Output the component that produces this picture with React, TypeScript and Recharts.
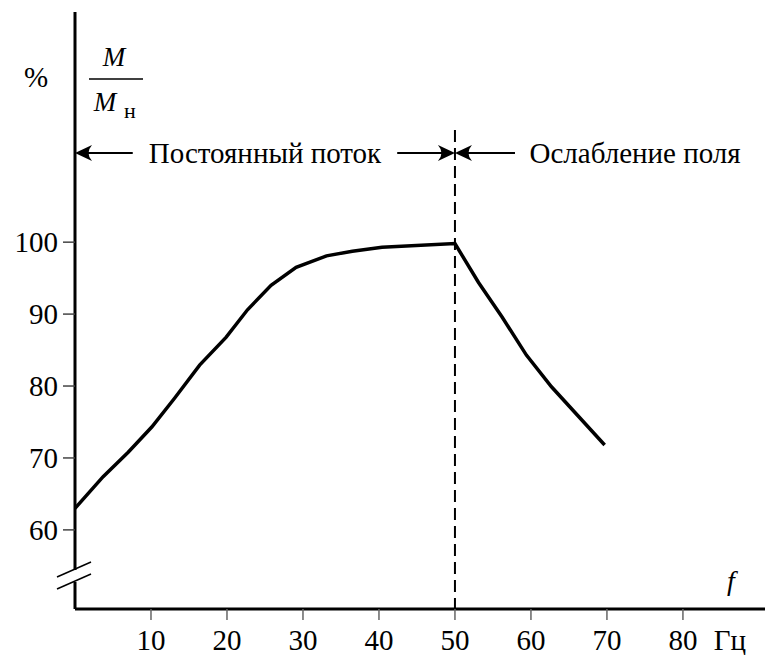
import React from 'react';
import { ComposedChart, Line, XAxis, YAxis, ReferenceLine, ReferenceDot } from 'recharts';

const frequency = [0, 3.7, 7.0, 10.1, 13.1, 16.4, 19.9, 22.7, 25.8, 29.1, 33.1, 36.5, 40.4, 50, 53.1, 56.2, 59.4, 62.7, 69.7];
const torquePct = [63.0, 67.4, 70.8, 74.3, 78.3, 82.9, 86.8, 90.6, 94.0, 96.5, 98.1, 98.75, 99.3, 99.8, 94.4, 89.6, 84.3, 79.9, 71.8];
const xTicks = [10, 20, 30, 40, 50, 60, 70, 80];
const yTicks = [60, 70, 80, 90, 100];
const baseFrequency = 50;
const labelConstFlux = 'Постоянный поток';
const labelWeakening = 'Ослабление поля';

const data = frequency.map((f, i) => ({ f, m: torquePct[i] }));

const FONT = '"Liberation Serif", Tinos, "Times New Roman", Times, "DejaVu Serif", "Noto Serif", serif';
const ARROW_Y = 112.4;

const ArrowShape = (props: any) => {
  const { x1, y1, x2, y2 } = props;
  const d = x2 > x1 ? 1 : -1;
  const L = 17;
  const H = 8;
  const head = `M ${x2} ${y2} L ${x2 - d * L} ${y2 - H} Q ${x2 - d * 10} ${y2} ${x2 - d * L} ${y2 + H} Z`;
  return (
    <g>
      <line x1={x1} y1={y1} x2={x2 - d * 8} y2={y2} stroke="#000" strokeWidth={2} />
      <path d={head} fill="#000" stroke="none" />
    </g>
  );
};

const TextShape = (text: string) => (props: any) => (
  <text x={props.cx} y={props.cy + 10} textAnchor="middle" style={{ fontFamily: FONT, fontSize: 29 }} fill="#000">
    {text}
  </text>
);

const tickStyle = { fill: '#000', fontSize: 29, style: { fontFamily: FONT } };

export default function App() {
  return (
    <div style={{ position: 'absolute', left: 0, top: 0, width: 765, height: 655, background: '#fff', fontFamily: FONT }}>
      <ComposedChart
        width={765}
        height={655}
        data={data}
        margin={{ top: 12, right: 0, bottom: 0, left: 0 }}
        style={{ fontFamily: FONT }}
      >
        <XAxis
          type="number"
          dataKey="f"
          domain={[0, 90.8]}
          ticks={xTicks}
          allowDataOverflow
          height={46}
          axisLine={{ stroke: '#000', strokeWidth: 3 }}
          tickLine={{ stroke: '#666', strokeWidth: 1.5 }}
          tickSize={11}
          tickMargin={9}
          tick={tickStyle}
          interval={0}
        />
        <YAxis
          type="number"
          domain={[49, 132]}
          ticks={yTicks}
          allowDataOverflow
          width={75}
          axisLine={{ stroke: '#000', strokeWidth: 3 }}
          tickLine={{ stroke: '#444', strokeWidth: 1.5 }}
          tickSize={12}
          tickMargin={5}
          tick={tickStyle}
          interval={0}
        />
        <ReferenceLine
          segment={[{ x: baseFrequency, y: 115.6 }, { x: baseFrequency, y: 49 }]}
          stroke="#000"
          strokeWidth={2}
          strokeDasharray="12 6"
          ifOverflow="visible"
        />
        <ReferenceLine segment={[{ x: 7.6, y: ARROW_Y }, { x: 0, y: ARROW_Y }]} shape={ArrowShape} ifOverflow="visible" />
        <ReferenceLine segment={[{ x: 42.4, y: ARROW_Y }, { x: baseFrequency, y: ARROW_Y }]} shape={ArrowShape} ifOverflow="visible" />
        <ReferenceLine segment={[{ x: 57.9, y: ARROW_Y }, { x: baseFrequency, y: ARROW_Y }]} shape={ArrowShape} ifOverflow="visible" />
        <ReferenceDot x={25} y={ARROW_Y} r={0} shape={TextShape(labelConstFlux)} ifOverflow="visible" />
        <ReferenceDot x={73.7} y={ARROW_Y} r={0} shape={TextShape(labelWeakening)} ifOverflow="visible" />
        <Line
          type="linear"
          dataKey="m"
          stroke="#000"
          strokeWidth={3.5}
          dot={false}
          activeDot={false}
          isAnimationActive={false}
        />
      </ComposedChart>
      <svg width={765} height={655} style={{ position: 'absolute', left: 0, top: 0, pointerEvents: 'none', fontFamily: FONT }}>
        <text x={36} y={87} textAnchor="middle" fontSize={29} fill="#000">%</text>
        <text x={114} y={66} textAnchor="middle" fontSize={27} fontStyle="italic" fill="#000">M</text>
        <line x1={89} y1={79} x2={143} y2={79} stroke="#000" strokeWidth={1.5} />
        <text x={105} y={111} textAnchor="middle" fontSize={27} fontStyle="italic" fill="#000">M</text>
        <text x={130} y={118} textAnchor="middle" fontSize={22} fill="#000">н</text>
        <text x={731} y={590} textAnchor="middle" fontSize={28} fontStyle="italic" fill="#000">f</text>
        <text x={730} y={650} textAnchor="middle" fontSize={29} fill="#000">Гц</text>
        <rect x={70} y={570} width={9} height={12} fill="#fff" />
        <line x1={57} y1={577} x2={91} y2={562} stroke="#000" strokeWidth={1.5} />
        <line x1={57} y1={589} x2={91} y2={574} stroke="#000" strokeWidth={1.5} />
      </svg>
    </div>
  );
}
